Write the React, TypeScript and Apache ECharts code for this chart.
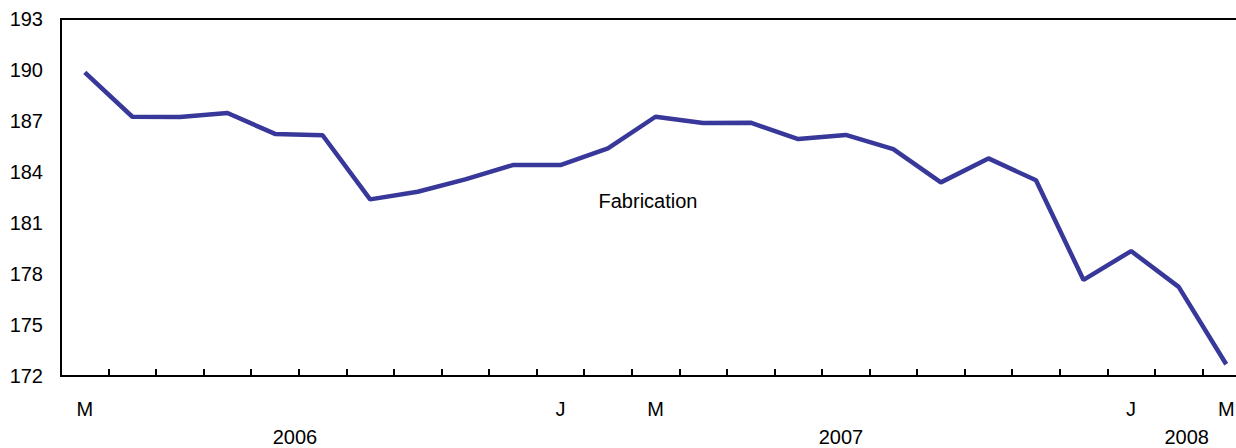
import React, { useEffect, useRef } from "react";
import * as echarts from "echarts";

const months = ["M", "A", "M", "J", "J", "A", "S", "O", "N", "D", "J", "F", "M", "A", "M", "J", "J", "A", "S", "O", "N", "D", "J", "F", "M"];
const shownMonthIdx = [0, 10, 12, 22, 24];
const fabrication = [189.86, 187.25, 187.24, 187.47, 186.24, 186.16, 182.39, 182.84, 183.57, 184.41, 184.41, 185.39, 187.25, 186.88, 186.9, 185.94, 186.18, 185.35, 183.39, 184.8, 183.51, 177.65, 179.35, 177.24, 172.69];
const yTicks = [172, 175, 178, 181, 184, 187, 190, 193];
const years = ["2006", "2007", "2008"];
const yearAt = [4.42, 15.9, 23.17];
const seriesName = "Fabrication";

export default function App() {
  const ref = useRef<HTMLDivElement>(null);
  useEffect(() => {
    const chart = echarts.init(ref.current!, null, { renderer: "svg" });
    const font = "'Liberation Sans', Arial, Helvetica, sans-serif";
    chart.setOption({
      animation: false,
      textStyle: { fontFamily: font },
      grid: {
        left: 61,
        top: 19,
        right: -14,
        bottom: 72,
        outerBoundsMode: "none",
        containLabel: false,
        show: true,
        borderColor: "#000",
        borderWidth: 2,
        backgroundColor: "transparent",
      },
      xAxis: [
        {
          type: "category",
          data: months,
          boundaryGap: true,
          axisLine: { show: true, onZero: false, lineStyle: { color: "#000", width: 2 } },
          axisTick: { show: true, inside: true, length: 7, interval: 0, lineStyle: { color: "#000", width: 2 } },
          axisLabel: {
            interval: (i: number) => shownMonthIdx.includes(i),
            color: "#000",
            fontSize: 20,
            fontFamily: font,
            margin: 23,
          },
          splitLine: { show: false },
        },
        {
          type: "value",
          position: "bottom",
          min: -0.5,
          max: 24.5,
          axisLine: { show: false, onZero: false },
          axisTick: { show: false },
          splitLine: { show: false },
          axisLabel: {
            customValues: yearAt,
            formatter: (v: number) => {
              const k = yearAt.findIndex((p) => Math.abs(p - v) < 1e-6);
              return k >= 0 ? years[k] : "";
            },
            color: "#000",
            fontSize: 20,
            fontFamily: font,
            margin: 51,
            showMinLabel: true,
            showMaxLabel: true,
          },
        },
      ],
      yAxis: {
        type: "value",
        min: 172,
        max: 193,
        axisLine: { show: true, onZero: false, lineStyle: { color: "#000", width: 2 } },
        axisTick: { show: false },
        splitLine: { show: false },
        axisLabel: {
          customValues: yTicks,
          color: "#000",
          fontSize: 20,
          fontFamily: font,
          margin: 18,
        },
      },
      graphic: [
        {
          type: "text",
          x: 648,
          y: 201,
          style: {
            text: seriesName,
            fill: "#000",
            fontSize: 20,
            fontFamily: font,
            align: "center",
            verticalAlign: "middle",
          },
        },
      ],
      series: [
        {
          name: seriesName,
          type: "line",
          data: fabrication,
          xAxisIndex: 0,
          symbol: "none",
          lineStyle: { color: "#38389a", width: 4.5 },
        },
      ],
    });
    return () => chart.dispose();
  }, []);
  return (
    <div
      ref={ref}
      style={{ position: "fixed", left: 0, top: 0, width: 1236, height: 448, background: "#fff" }}
    />
  );
}
